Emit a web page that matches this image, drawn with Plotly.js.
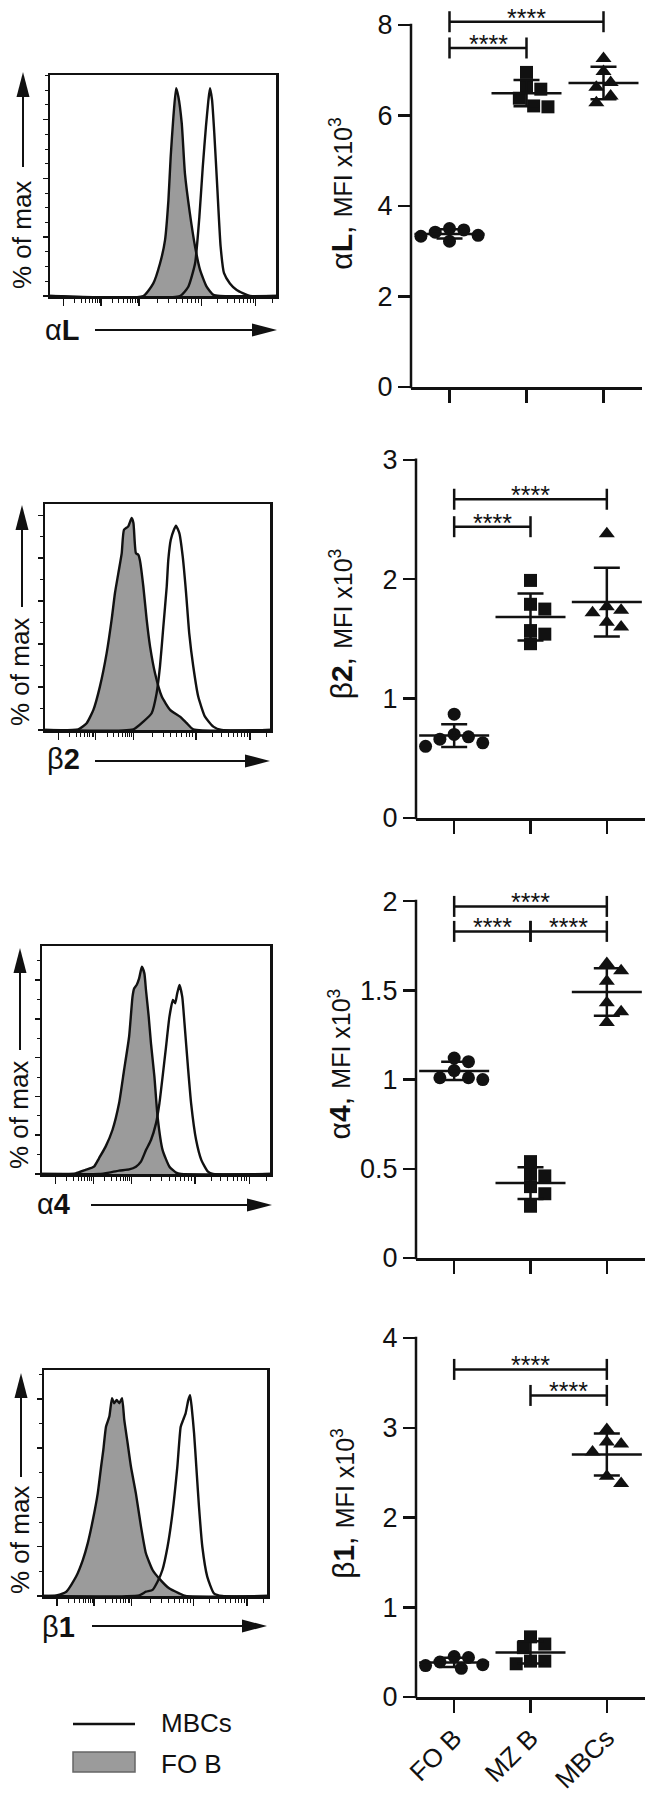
<!DOCTYPE html>
<html><head><meta charset="utf-8">
<script src="https://cdn.plot.ly/plotly-3.0.1.min.js"></script>
<style>html,body{margin:0;padding:0;background:#fff}#chart{width:650px;height:1796px}</style>
</head><body><div id="chart"></div>
<script>
// ---------------- DATA ----------------
const categories = ['FO B', 'MZ B', 'MBCs'];

// Scatter values, MFI x10^3 (six mice per group)
const aL_FOB = [3.47, 3.42, 3.35, 3.50, 3.33, 3.22];
const aL_MZB = [6.95, 6.64, 6.58, 6.38, 6.21, 6.19];
const aL_MBC = [7.26, 6.97, 6.73, 6.62, 6.43, 6.28];
const b2_FOB = [0.87, 0.70, 0.68, 0.66, 0.63, 0.60];
const b2_MZB = [1.99, 1.79, 1.75, 1.57, 1.54, 1.46];
const b2_MBC = [2.38, 1.77, 1.72, 1.74, 1.64, 1.60];
const a4_FOB = [1.05, 1.10, 1.12, 1.01, 1.01, 1.00];
const a4_MZB = [0.54, 0.47, 0.46, 0.40, 0.36, 0.29];
const a4_MBC = [1.65, 1.61, 1.55, 1.43, 1.38, 1.32];
const b1_FOB = [0.44, 0.39, 0.45, 0.36, 0.35, 0.32];
const b1_MZB = [0.67, 0.55, 0.59, 0.40, 0.40, 0.37];
const b1_MBC = [2.98, 2.84, 2.82, 2.73, 2.46, 2.38];

// Significance brackets (category index from/to, bracket height)
const aL_sigFrom = [0, 0], aL_sigTo = [2, 1], aL_sigY = [8.07, 7.49], aL_sigText = ['****', '****'];
const b2_sigFrom = [0, 0], b2_sigTo = [2, 1], b2_sigY = [2.67, 2.44], b2_sigText = ['****', '****'];
const a4_sigFrom = [0, 0, 1], a4_sigTo = [2, 1, 2], a4_sigY = [1.97, 1.83, 1.83], a4_sigText = ['****', '****', '****'];
const b1_sigFrom = [0, 1], b1_sigTo = [2, 2], b1_sigY = [3.65, 3.36], b1_sigText = ['****', '****'];

// Histograms: x = display channel (0-1000), y = height (% of plot)
const aL_hFOB_x = [0, 413, 457, 487, 509, 524, 534, 546, 558, 568, 583, 597, 619, 642, 664, 693, 723, 752, 1000];
const aL_hFOB_y = [0, 0, 5.7, 14.8, 25.3, 43.4, 63, 81.1, 94, 90.2, 78.1, 55.5, 37.4, 22.3, 11.8, 4.2, 0.5, 0, 0];
const aL_hMBC_x = [0, 575, 612, 642, 661, 676, 690, 701, 708, 717, 727, 740, 755, 770, 796, 826, 855, 885, 1000];
const aL_hMBC_y = [0, 0, 4.2, 14.8, 35.9, 58.5, 76.6, 88.7, 94, 88.7, 73.6, 49.5, 22.3, 10.3, 5.7, 2.7, 1.2, 0, 0];

const b2_hFOB_x = [0, 148, 185, 215, 244, 274, 296, 311, 326, 341, 351, 370, 385, 393, 404, 415, 422, 437, 452, 467, 489, 519, 556, 600, 630, 659, 1000];
const b2_hFOB_y = [0, 0.3, 3, 8.9, 19.2, 34, 48.7, 60.6, 69.4, 78.3, 88.6, 90.1, 93.8, 91.6, 78.3, 77.5, 75, 63.5, 48.7, 36.9, 25.1, 14.8, 8.9, 5.9, 3, 0.3, 0];
const b2_hMBC_x = [0, 393, 437, 474, 496, 511, 526, 541, 548, 559, 573, 582, 597, 612, 627, 641, 659, 681, 711, 748, 785, 1000];
const b2_hMBC_y = [0, 0.3, 3.7, 7.4, 16.2, 28.1, 45.8, 63.5, 75.3, 84.2, 88.6, 90.4, 87.1, 76.8, 60.6, 42.8, 28.1, 14.8, 5.9, 1.5, 0, 0];

const a4_hFOB_x = [0, 147, 191, 228, 250, 279, 309, 338, 360, 382, 397, 404, 415, 426, 438, 449, 456, 468, 478, 493, 507, 529, 559, 588, 610, 1000];
const a4_hFOB_y = [0, 0.3, 1.8, 3.2, 6.9, 12, 19.3, 31, 45.6, 60.2, 77.8, 81.4, 82.9, 85.8, 90.9, 88, 80.7, 69, 57.3, 42.7, 25.1, 10.5, 3.2, 0.6, 0, 0];
const a4_hMBC_x = [0, 250, 294, 338, 382, 412, 434, 456, 478, 500, 515, 529, 544, 559, 574, 584, 593, 603, 615, 625, 640, 654, 676, 699, 728, 750, 1000];
const a4_hMBC_y = [0, 0, 0.6, 1.5, 2, 3.2, 5.4, 10.5, 14.9, 22.2, 31, 42.7, 55.8, 69, 76.3, 74.9, 79.2, 82.9, 77.8, 66.1, 47.1, 31, 14.9, 6.1, 1, 0, 0];

const b1_hFOB_x = [0, 55, 100, 144, 174, 196, 219, 241, 256, 266, 278, 293, 305, 315, 326, 338, 350, 360, 375, 390, 412, 435, 457, 487, 516, 561, 606, 635, 1000];
const b1_hFOB_y = [0, 0.3, 1.9, 8.6, 15.9, 23.3, 33.6, 45.4, 57.2, 64.6, 74.9, 79.4, 87.5, 85.3, 86.7, 85.3, 87.5, 77.9, 67.6, 57.2, 45.4, 30.7, 18.9, 11.5, 7.8, 3.4, 1.2, 0, 0];
const b1_hMBC_x = [0, 427, 457, 487, 509, 531, 554, 576, 598, 613, 624, 635, 647, 655, 662, 673, 683, 695, 710, 732, 762, 799, 1000];
const b1_hMBC_y = [0, 0.3, 1.9, 2.7, 6.3, 11.5, 21.8, 36.6, 57.2, 74.9, 77.9, 80.8, 86.7, 88.9, 83.8, 72, 57.2, 39.5, 21.8, 8.6, 1.2, 0, 0];

const legendLabels = ['MBCs', 'FO B'];
const markerNames = [['α', 'L'], ['β', '2'], ['α', '4'], ['β', '1']];

// ---------------- LAYOUT HELPERS ----------------
const W = 650, H = 1796;
const P = x => x / W, Q = y => 1 - y / H;
const FONT = 'Liberation Sans, Arial, Helvetica, sans-serif';
const INK = '#111';
const GREY = '#9b9b9b';

const boldSpan = (t, size) => `<span style="font-weight:bold;font-size:${size}px">${t}</span>`;
const chanLabel = (m, size) => m[0] + boldSpan(m[1], size);

const hist = [
  {fx: aL_hFOB_x, fy: aL_hFOB_y, mx: aL_hMBC_x, my: aL_hMBC_y, box: [50, 276, 75, 296], ymaj: 26.6, ymin: 6.65,
   labelXY: [43, 330], pct: [22, 235], vArrow: [23, 167, 72], hArrow: [330, 95, 277]},
  {fx: b2_hFOB_x, fy: b2_hFOB_y, mx: b2_hMBC_x, my: b2_hMBC_y, box: [45, 270, 504, 730], ymaj: 19, ymin: 9.5,
   labelXY: [45, 759], pct: [20, 672], vArrow: [22, 607, 505], hArrow: [761, 95, 270]},
  {fx: a4_hFOB_x, fy: a4_hFOB_y, mx: a4_hMBC_x, my: a4_hMBC_y, box: [42, 270, 946, 1174], ymaj: 17, ymin: 8.5,
   labelXY: [35, 1204], pct: [19, 1115], vArrow: [20, 1050, 948], hArrow: [1205, 91, 272]},
  {fx: b1_hFOB_x, fy: b1_hFOB_y, mx: b1_hMBC_x, my: b1_hMBC_y, box: [44, 267, 1370, 1596], ymaj: 21.8, ymin: 10.9,
   labelXY: [40, 1627], pct: [20, 1540], vArrow: [21, 1477, 1373], hArrow: [1626, 92, 267]}
];

const scat = [
  {groups: [aL_FOB, aL_MZB, aL_MBC], ticks: [0, 2, 4, 6, 8], ymax: 8.55, xpx: [411, 642], ypx: [0, 387],
   sf: aL_sigFrom, st: aL_sigTo, sy: aL_sigY, stext: aL_sigText, standoff: 16, showX: false},
  {groups: [b2_FOB, b2_MZB, b2_MBC], ticks: [0, 1, 2, 3], ymax: 3.25, xpx: [416, 645], ypx: [430, 818],
   sf: b2_sigFrom, st: b2_sigTo, sy: b2_sigY, stext: b2_sigText, standoff: 21, showX: false},
  {groups: [a4_FOB, a4_MZB, a4_MBC], ticks: [0, 0.5, 1, 1.5, 2], ymax: 2.174, xpx: [416, 645], ypx: [870, 1258],
   sf: a4_sigFrom, st: a4_sigTo, sy: a4_sigY, stext: a4_sigText, standoff: 0, showX: false},
  {groups: [b1_FOB, b1_MZB, b1_MBC], ticks: [0, 1, 2, 3, 4], ymax: 4.312, xpx: [416, 645], ypx: [1310, 1697],
   sf: b1_sigFrom, st: b1_sigTo, sy: b1_sigY, stext: b1_sigText, standoff: 19, showX: true}
];
const symbols = ['circle', 'square', 'triangle-up'];

// Flow axis tick marks (biexponential look)
const decades = [59, 225, 393, 670, 910, 1160];
const histMajor = decades.filter(v => v <= 1000);
const histMinor = [];
for (let i = 0; i < decades.length - 1; i++)
  for (let k = 2; k <= 9; k++) {
    const v = decades[i] + (decades[i + 1] - decades[i]) * Math.log10(k);
    if (v < 1000) histMinor.push(v);
  }

const mean = a => a.reduce((s, v) => s + v, 0) / a.length;
const sd = a => { const m = mean(a); return Math.sqrt(a.reduce((s, v) => s + (v - m) ** 2, 0) / (a.length - 1)); };

// simple beeswarm to spread overlapping points horizontally
function swarm(vals, pxPerUnit, pxPerCat, size) {
  const order = vals.map((v, i) => i).sort((a, b) => vals[b] - vals[a]);
  const placed = [], off = new Array(vals.length).fill(0);
  const step = size * 0.55;
  for (const i of order) {
    const yp = vals[i] * pxPerUnit;
    for (let k = 0; k < 60; k++) {
      const c = k === 0 ? 0 : (k % 2 ? 1 : -1) * Math.ceil(k / 2) * step;
      if (placed.every(p => Math.hypot(p.x - c, p.y - yp) >= size * 0.95)) {
        off[i] = c / pxPerCat; placed.push({x: c, y: yp}); break;
      }
    }
  }
  return off;
}

const data = [];
const layout = {
  width: W, height: H, margin: {l: 0, r: 0, t: 0, b: 0},
  paper_bgcolor: '#fff', plot_bgcolor: 'rgba(0,0,0,0)', showlegend: false, hovermode: false,
  font: {family: FONT, color: INK, size: 24},
  shapes: [], annotations: []
};

function arrowShapes(v, h) {
  // vertical: [x, tail, tip]; horizontal: [y, tail, tip]
  const [vx, vt, vp] = v, [hy, ht, hp] = h;
  const hl = 25, hw = 6.5;
  layout.shapes.push({type: 'line', xref: 'paper', yref: 'paper', x0: P(vx), x1: P(vx), y0: Q(vt), y1: Q(vp + hl - 2), line: {color: INK, width: 2}});
  layout.shapes.push({type: 'path', xref: 'paper', yref: 'paper', fillcolor: INK, line: {width: 0},
    path: `M${P(vx - hw)},${Q(vp + hl)} L${P(vx)},${Q(vp)} L${P(vx + hw)},${Q(vp + hl)} Z`});
  layout.shapes.push({type: 'line', xref: 'paper', yref: 'paper', x0: P(ht), x1: P(hp - hl + 2), y0: Q(hy), y1: Q(hy), line: {color: INK, width: 2}});
  layout.shapes.push({type: 'path', xref: 'paper', yref: 'paper', fillcolor: INK, line: {width: 0},
    path: `M${P(hp - hl)},${Q(hy - hw)} L${P(hp)},${Q(hy)} L${P(hp - hl)},${Q(hy + hw)} Z`});
}

// ---------------- HISTOGRAMS ----------------
hist.forEach((h, i) => {
  const n = i + 1;
  const xa = n === 1 ? 'x' : 'x' + n, ya = n === 1 ? 'y' : 'y' + n;
  const xk = n === 1 ? 'xaxis' : 'xaxis' + n, yk = n === 1 ? 'yaxis' : 'yaxis' + n;
  const [l, r, t, b] = h.box;
  data.push({type: 'scatter', mode: 'lines', x: h.fx, y: h.fy, xaxis: xa, yaxis: ya, fill: 'tozeroy', fillcolor: GREY,
    line: {color: INK, width: 2.4, shape: 'spline', smoothing: 0.5}, hoverinfo: 'skip'});
  data.push({type: 'scatter', mode: 'lines', x: h.mx, y: h.my, xaxis: xa, yaxis: ya,
    line: {color: INK, width: 2.4, shape: 'spline', smoothing: 0.5}, hoverinfo: 'skip'});
  layout[xk] = {domain: [P(l), P(r)], range: [0, 1000], anchor: ya, showline: true, mirror: true, linewidth: 2.5, linecolor: INK,
    showgrid: false, zeroline: false, showticklabels: false, fixedrange: true,
    ticks: 'outside', ticklen: 7, tickwidth: 1.5, tickcolor: INK, tickmode: 'array', tickvals: histMajor,
    minor: {ticks: 'outside', ticklen: 4, tickwidth: 1, tickcolor: INK, tickmode: 'array', tickvals: histMinor, showgrid: false}};
  layout[yk] = {domain: [Q(b), Q(t)], range: [0, 100], anchor: xa, showline: true, mirror: true, linewidth: 2.5, linecolor: INK,
    showgrid: false, zeroline: false, showticklabels: false, fixedrange: true,
    ticks: 'outside', ticklen: 5, tickwidth: 1.5, tickcolor: INK, tick0: 0, dtick: h.ymaj,
    minor: {ticks: 'outside', ticklen: 3, tickwidth: 1, tickcolor: INK, tick0: 0, dtick: h.ymin, showgrid: false}};
  layout.annotations.push({xref: 'paper', yref: 'paper', x: P(h.pct[0]), y: Q(h.pct[1]), text: '% of max', textangle: -90,
    showarrow: false, xanchor: 'center', yanchor: 'middle', font: {size: 26, color: INK}});
  layout.annotations.push({xref: 'paper', yref: 'paper', x: P(h.labelXY[0]), y: Q(h.labelXY[1]), text: chanLabel(markerNames[i], 29),
    showarrow: false, xanchor: 'left', yanchor: 'middle', font: {size: 29, color: INK}});
  arrowShapes(h.vArrow, h.hArrow);
});

// ---------------- SCATTER PANELS ----------------
scat.forEach((s, i) => {
  const n = i + 5;
  const xa = 'x' + n, ya = 'y' + n, xk = 'xaxis' + n, yk = 'yaxis' + n;
  const wpx = s.xpx[1] - s.xpx[0], hpx = s.ypx[1] - s.ypx[0];
  const pxPerUnit = hpx / s.ymax, pxPerCat = wpx / 3;
  s.groups.forEach((g, gi) => {
    const off = swarm(g, pxPerUnit, pxPerCat, 13);
    data.push({type: 'scatter', mode: 'markers', x: g.map((v, k) => gi + off[k]), y: g, xaxis: xa, yaxis: ya, cliponaxis: false,
      marker: {symbol: symbols[gi], size: gi === 2 ? 14 : 13, color: INK, line: {width: 0}}, hoverinfo: 'skip'});
  });
  s.groups.forEach((g, gi) => {
    data.push({type: 'scatter', mode: 'markers', x: [gi], y: [mean(g)], xaxis: xa, yaxis: ya, cliponaxis: false,
      marker: {symbol: 'line-ew', size: 50, color: INK, line: {width: 2.5, color: INK}},
      error_y: {type: 'data', array: [sd(g)], symmetric: true, width: 13, thickness: 2.5, color: INK}, hoverinfo: 'skip'});
  });
  s.sf.forEach((f, k) => {
    data.push({type: 'scatter', mode: 'lines+markers', x: [f, s.st[k]], y: [s.sy[k], s.sy[k]], xaxis: xa, yaxis: ya, cliponaxis: false,
      line: {color: INK, width: 2.5}, marker: {symbol: 'line-ns', size: 15, color: INK, line: {width: 2.5, color: INK}}, hoverinfo: 'skip'});
    layout.annotations.push({xref: xa, yref: ya, x: (f + s.st[k]) / 2, y: s.sy[k], text: s.stext[k], showarrow: false,
      xanchor: 'center', yanchor: 'middle', yshift: 4, font: {size: 25, color: INK}});
  });
  layout[xk] = {domain: [P(s.xpx[0]), P(s.xpx[1])], range: [-0.5, 2.5], anchor: ya, showline: true, linewidth: 2.5, linecolor: INK,
    showgrid: false, zeroline: false, fixedrange: true, tickmode: 'array', tickvals: [0, 1, 2], ticktext: categories,
    ticks: 'outside', ticklen: 13, tickwidth: 2.5, tickcolor: INK, showticklabels: s.showX, tickangle: -45,
    tickfont: {size: 26, color: INK}};
  layout[yk] = {domain: [Q(s.ypx[1]), Q(s.ypx[0])], range: [0, s.ymax], anchor: xa, showline: false,
    showgrid: false, zeroline: false, fixedrange: true, tickmode: 'array', tickvals: s.ticks,
    ticks: 'outside', ticklen: 12, tickwidth: 2.5, tickcolor: INK, tickfont: {size: 27, color: INK},
    title: {text: chanLabel(markerNames[i], 30) + ', <span style="font-size:25px">MFI x10<sup>3</sup></span>',
            font: {size: 30, color: INK}, standoff: s.standoff}};
  // y axis line from 0 to the top tick
  const topPx = s.ypx[1] - s.ticks[s.ticks.length - 1] * pxPerUnit;
  layout.shapes.push({type: 'line', xref: 'paper', yref: 'paper', x0: P(s.xpx[0]), x1: P(s.xpx[0]), y0: Q(s.ypx[1] + 1.25), y1: Q(topPx - 1.25),
    line: {color: INK, width: 2.5}});
});

// ---------------- LEGEND ----------------
layout.shapes.push({type: 'line', xref: 'paper', yref: 'paper', x0: P(73), x1: P(135), y0: Q(1724), y1: Q(1724), line: {color: INK, width: 2.5}});
layout.shapes.push({type: 'rect', xref: 'paper', yref: 'paper', x0: P(73), x1: P(135), y0: Q(1772), y1: Q(1752), fillcolor: GREY, line: {color: '#666', width: 1.5}});
layout.annotations.push({xref: 'paper', yref: 'paper', x: P(159), y: Q(1723), text: legendLabels[0], showarrow: false, xanchor: 'left', yanchor: 'middle', font: {size: 26, color: INK}});
layout.annotations.push({xref: 'paper', yref: 'paper', x: P(159), y: Q(1764), text: legendLabels[1], showarrow: false, xanchor: 'left', yanchor: 'middle', font: {size: 26, color: INK}});

Plotly.newPlot('chart', data, layout, {displayModeBar: false, staticPlot: true});
</script>
</body></html>
